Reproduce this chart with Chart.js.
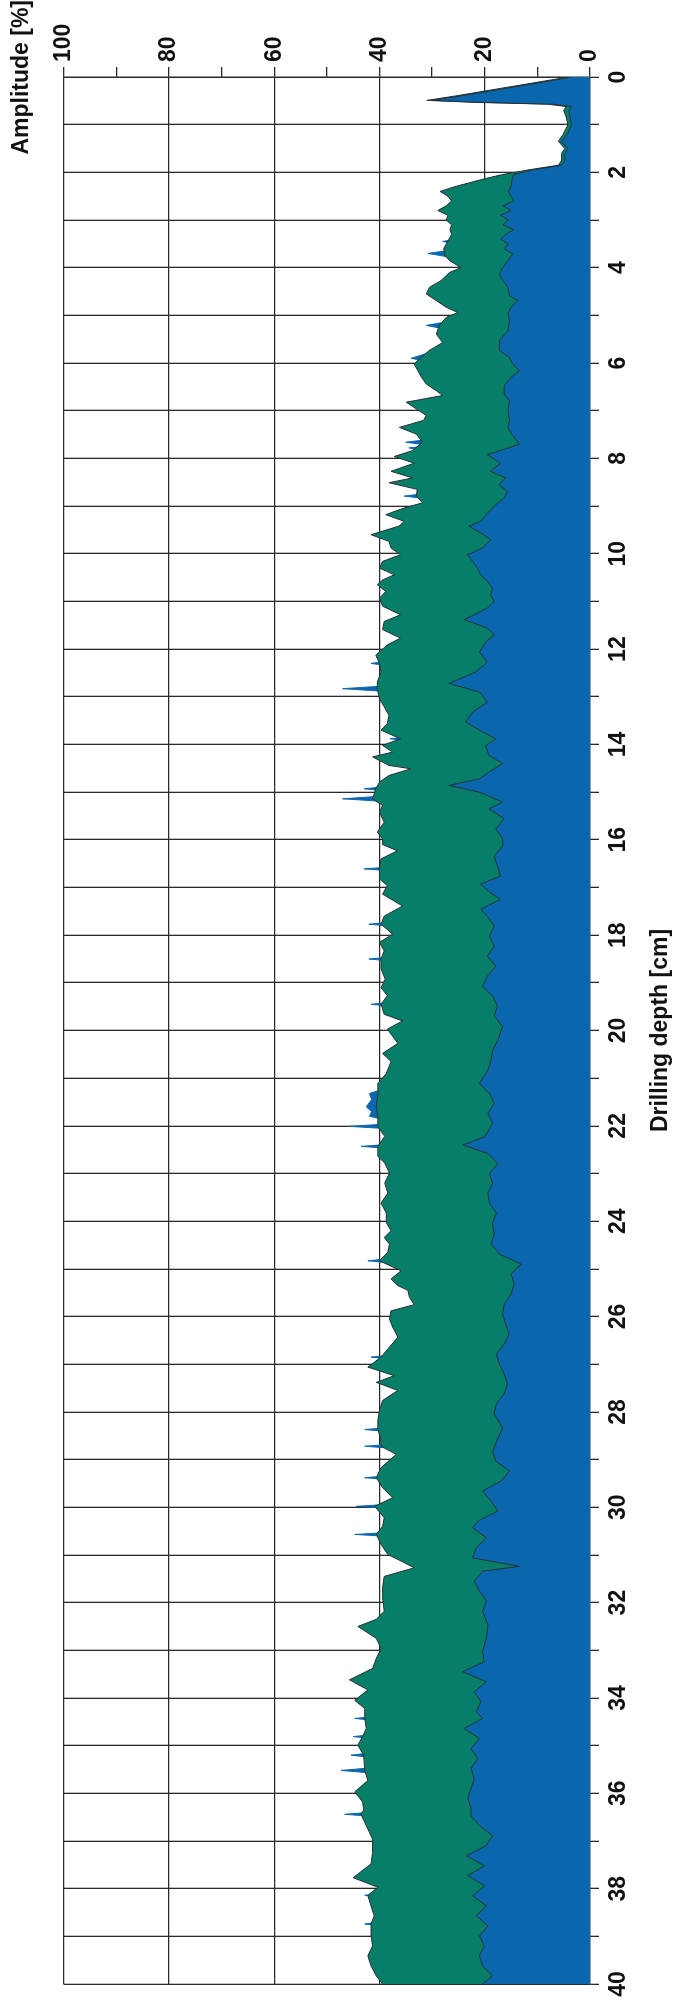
<!DOCTYPE html>
<html>
<head>
<meta charset="utf-8">
<script src="https://cdn.jsdelivr.net/npm/chart.js@4.4.1/dist/chart.umd.min.js"></script>
<style>
  html, body { margin: 0; padding: 0; background: #fff; overflow: hidden; }
  body { width: 676px; height: 2004px; position: relative; }
  #wrap { position: absolute; left: 0; top: 2004px; width: 2004px; height: 676px;
          transform-origin: 0 0; transform: rotate(-90deg); }
</style>
</head>
<body>
<div id="wrap"><canvas id="c" width="2004" height="676"></canvas></div>
<script>
// Drilling depth [cm] vs amplitude [%]
const depthTicks = [0,2,4,6,8,10,12,14,16,18,20,22,24,26,28,30,32,34,36,38,40];
const amplitudeTicks = [0,20,40,60,80,100];

// upper (green) profile: [depth, amplitude]
const greenSeries = [[0,4],[0.1,9.5],[0.25,17.6],[0.4,25.7],[0.49,31],[0.53,22],[0.57,8],[0.62,4.5],[0.7,5],[0.85,4.5],[1.0,4.2],[1.2,5.1],[1.35,6],[1.5,4.8],[1.6,5.4],[1.75,5.4],[1.85,6],[1.95,11.8],[2.05,16.8],[2.15,20.6],[2.3,25.7],[2.4,28.5],[2.5,27],[2.6,26.3],[2.7,27.3],[2.8,28.9],[2.9,27],[3.0,27.3],[3.1,26.3],[3.2,26.6],[3.3,26.3],[3.4,26.8],[3.5,27.3],[3.6,27.8],[3.75,27.5],[3.85,26.7],[4.0,24.5],[4.1,26.7],[4.27,28.3],[4.41,30.5],[4.55,31.1],[4.69,29.2],[4.83,27.3],[4.94,25.1],[5.04,27.3],[5.21,28.6],[5.39,29.2],[5.57,28],[5.74,30.6],[5.91,32.4],[6.02,33.4],[6.16,32.7],[6.3,32],[6.44,31.1],[6.58,29.2],[6.68,28],[6.82,34.9],[6.96,33],[7.1,31.1],[7.2,31.6],[7.35,36.2],[7.49,33],[7.66,31.8],[7.84,33.8],[7.96,37.2],[8.1,33.4],[8.27,37.8],[8.41,33.7],[8.51,38.2],[8.65,32.8],[8.79,33],[8.93,31.8],[9.04,35.3],[9.18,38.8],[9.32,35.3],[9.42,36.3],[9.6,41.6],[9.74,38.2],[9.88,37.8],[10.02,36],[10.16,39.4],[10.3,40],[10.44,37.2],[10.55,39.4],[10.65,40.4],[10.79,38.8],[10.93,40],[11.1,39.4],[11.28,36],[11.42,39.1],[11.59,39.4],[11.77,36],[11.91,38.5],[12.13,40.7],[12.3,40],[12.48,39.7],[12.69,40.4],[12.83,40.4],[13.04,40],[13.21,39.1],[13.39,38.2],[13.56,38.5],[13.7,39.7],[13.88,36],[14.02,39.4],[14.16,37.5],[14.26,41.3],[14.44,38.2],[14.51,34],[14.65,38.2],[14.79,40],[14.93,40.7],[15.14,41.3],[15.28,39.4],[15.42,40],[15.63,39.1],[15.84,40.4],[15.98,39.4],[16.1,39.4],[16.23,36.6],[16.4,39.7],[16.61,40],[16.82,40],[16.96,38.5],[17.14,39.4],[17.39,35.6],[17.6,39.1],[17.77,39.7],[17.98,37.5],[18.15,40],[18.33,39.1],[18.5,39.7],[18.71,39.7],[18.92,38.9],[19.1,39.7],[19.27,38.5],[19.45,39.7],[19.66,39.1],[19.8,35.6],[19.97,38.5],[20.27,36.5],[20.48,39.4],[20.65,37.8],[20.9,38.7],[21.11,40.3],[21.32,40.3],[21.6,40.6],[21.8,40.3],[22.01,40.3],[22.22,39],[22.43,40.3],[22.64,40.3],[22.78,39],[22.99,38.1],[23.2,39],[23.41,38.4],[23.62,39.7],[23.83,38.7],[24.03,38.7],[24.2,37.8],[24.34,39.1],[24.48,38.1],[24.65,38.4],[24.83,40],[25.04,35.9],[25.21,37.8],[25.35,36.5],[25.45,34.6],[25.6,34.3],[25.75,33.4],[25.88,37.8],[26.05,38.1],[26.22,37.5],[26.43,36.5],[26.64,38.1],[26.85,39.7],[27.06,42.2],[27.24,37.2],[27.38,40.6],[27.55,36.5],[27.76,39.4],[27.97,40],[28.18,40.3],[28.37,40.3],[28.55,39.8],[28.72,39.7],[28.89,36.8],[29.17,39.7],[29.38,40.6],[29.59,39.4],[29.8,37.5],[29.98,40.9],[30.22,39.1],[30.4,39.4],[30.57,40.6],[30.78,39.7],[30.99,38.4],[31.15,35.5],[31.27,33.4],[31.45,39.1],[31.69,39.4],[31.9,39.4],[32.18,39.1],[32.35,40.6],[32.5,44.1],[32.75,40.6],[32.96,39.7],[33.17,40.6],[33.38,41.3],[33.62,45.7],[33.83,42.2],[34.05,44.7],[34.22,42.8],[34.43,42.8],[34.64,42.5],[34.81,43.2],[34.99,44.1],[35.2,43],[35.52,42.8],[35.73,42.2],[35.97,44.7],[36.18,43.2],[36.35,43],[36.44,43.5],[36.68,42.5],[36.96,41.3],[37.24,41.3],[37.48,41.6],[37.77,45],[37.97,40.3],[38.14,42.2],[38.36,41.6],[38.57,41],[38.74,41.6],[38.99,41.6],[39.2,41.3],[39.41,42.2],[39.62,41.6],[39.83,40.6],[40,39.4]];

// lower (blue) profile: [depth, amplitude]
const blueSeries = [[0,3.5],[0.1,8.5],[0.25,16.6],[0.4,24.7],[0.49,30],[0.53,21],[0.57,7],[0.62,3.5],[0.7,4],[0.85,3.8],[1.0,3.5],[1.2,4.3],[1.35,5.5],[1.5,4.2],[1.6,4.8],[1.75,4.8],[1.85,5.5],[1.95,11],[2.05,14.5],[2.15,14.8],[2.3,15],[2.4,15.5],[2.5,15],[2.6,14.5],[2.7,16.5],[2.8,15],[2.9,17],[3.0,15.5],[3.1,16.5],[3.2,14.5],[3.3,16],[3.4,17],[3.5,15.5],[3.6,16.3],[3.71,14.7],[3.85,15.6],[4.0,16.6],[4.13,17.2],[4.27,16.6],[4.41,15.6],[4.59,15.3],[4.69,13.7],[4.83,15],[4.97,15.6],[5.11,15.3],[5.32,15.6],[5.53,17.2],[5.74,17.2],[5.88,15.3],[6.02,14.7],[6.16,13.4],[6.3,15],[6.48,16.3],[6.65,16.3],[6.79,15.3],[7.0,15.6],[7.21,15.3],[7.35,15.6],[7.52,14.7],[7.7,13.4],[7.8,16],[7.92,19.5],[8.1,17],[8.27,18.9],[8.41,16],[8.55,17.3],[8.69,15.7],[8.83,16.3],[8.97,17.9],[9.15,19.5],[9.32,20.8],[9.42,23],[9.56,20.8],[9.7,18.9],[9.88,20.4],[10.02,23.3],[10.16,22.3],[10.3,21.4],[10.44,20.8],[10.58,19.5],[10.72,18.5],[10.86,18.9],[11.0,18.2],[11.14,19.5],[11.28,22],[11.38,23.9],[11.56,19.5],[11.7,18.2],[11.85,19.8],[12.06,21],[12.27,19.5],[12.48,21.7],[12.72,26.8],[12.9,21],[13.11,19.5],[13.32,22.3],[13.53,23.6],[13.7,21],[13.88,17.9],[14.02,19.8],[14.23,19.2],[14.4,16.6],[14.58,19.2],[14.72,21],[14.86,26.8],[15.0,21],[15.21,16.6],[15.35,19.2],[15.56,16.3],[15.77,17.9],[15.98,16.6],[16.13,16.6],[16.34,18.2],[16.55,17.6],[16.76,17],[16.93,20.8],[17.11,18.9],[17.25,17],[17.46,20.8],[17.6,19.5],[17.81,18.2],[18.02,19.1],[18.23,18.2],[18.44,19.5],[18.65,17.9],[18.86,19.5],[19.07,20.4],[19.28,18.5],[19.49,17.6],[19.7,18.2],[19.91,16.6],[20.2,17.5],[20.41,18.5],[20.62,18.8],[20.83,19.4],[21.11,21],[21.32,19.1],[21.53,18.2],[21.74,19.4],[21.95,18.5],[22.23,20],[22.4,24.2],[22.58,19.4],[22.79,17.5],[23.0,19.1],[23.2,18.5],[23.41,19.4],[23.62,19.1],[23.83,17.8],[24.04,18.5],[24.27,18.2],[24.48,18.8],[24.69,17.2],[24.9,13.1],[25.11,15],[25.32,14.4],[25.53,15],[25.74,16.3],[25.95,16.6],[26.16,16],[26.37,15.4],[26.58,16.3],[26.79,17.8],[27.0,17.2],[27.2,16.3],[27.41,15.7],[27.62,16.3],[27.83,17.8],[28.04,18.2],[28.34,16.6],[28.55,17.5],[28.83,18.5],[29.03,17.9],[29.24,15.3],[29.45,16.9],[29.66,20.4],[29.87,18.8],[30.08,17.5],[30.29,21.3],[30.43,22.3],[30.64,19.7],[30.85,21.6],[31.06,22.3],[31.24,13.4],[31.34,20.4],[31.55,22],[31.76,21],[31.97,19.7],[32.18,20.4],[32.47,19.4],[32.75,19.7],[33.03,20.4],[33.24,20.1],[33.45,24.2],[33.66,19.7],[33.87,22],[34.08,20.7],[34.29,21.6],[34.43,20.4],[34.64,23.9],[34.85,21],[35.06,22.6],[35.27,21.3],[35.48,22.6],[35.69,22],[35.9,22.6],[36.11,23.2],[36.32,22.6],[36.47,22.6],[36.68,21],[36.89,18.5],[37.1,19.8],[37.31,23.5],[37.52,20.1],[37.73,23.2],[37.94,20],[38.15,22.3],[38.36,19.7],[38.57,21.6],[38.78,19.4],[38.99,21],[39.2,20.1],[39.41,21],[39.62,20.4],[39.83,18.5],[40,20.4]];

// blue peaks showing beyond the green profile (null = gap)
const spikeSeries = [[3.4,25.5],[3.45,28],[3.5,25.5],[3.5,null],[3.63,26.5],[3.7,30.8],[3.78,26.5],[3.78,null],[5.12,26.5],[5.21,31.1],[5.3,27],[5.3,null],[5.68,28.5],[5.8,31],[5.9,34],[5.96,31],[5.96,null],[7.6,30.5],[7.66,35],[7.72,31],[7.72,null],[7.74,31],[7.78,34.4],[7.82,32],[7.82,null],[8.74,31.5],[8.79,35.3],[8.84,31.5],[8.84,null],[12.25,38.5],[12.3,41.6],[12.35,38.5],[12.35,null],[12.77,38.5],[12.83,47],[12.89,38.5],[12.89,null],[13.84,34.5],[13.88,38],[13.92,35],[13.92,null],[14.88,38.5],[14.93,42.9],[14.98,38.5],[14.98,null],[15.08,39],[15.14,47],[15.2,38.5],[15.2,null],[16.57,38],[16.61,42.9],[16.65,38],[16.65,null],[17.73,38],[17.77,42],[17.81,38],[17.81,null],[18.46,38],[18.5,42],[18.54,38],[18.54,null],[19.41,38],[19.45,41.6],[19.49,38],[19.49,null],[21.2,38.5],[21.32,41.9],[21.45,41.5],[21.6,42.5],[21.7,41.5],[21.8,41.9],[21.88,38.5],[21.88,null],[21.96,38.5],[22.01,45.7],[22.06,38.5],[22.06,null],[22.39,38.5],[22.43,43.5],[22.47,38.5],[22.47,null],[24.79,38.5],[24.83,42.2],[24.87,38.5],[24.87,null],[26.81,38],[26.85,41.6],[26.89,38.5],[26.89,null],[28.33,38.5],[28.37,42.8],[28.41,38.5],[28.41,null],[28.68,38],[28.72,42.8],[28.76,38],[28.76,null],[29.34,38.5],[29.38,42.8],[29.42,38.5],[29.42,null],[29.94,38.5],[29.98,44.4],[30.02,38.5],[30.02,null],[30.53,38.5],[30.57,44.7],[30.61,38.5],[30.61,null],[34.39,41],[34.43,44.7],[34.47,41],[34.47,null],[34.77,41.5],[34.81,45],[34.85,41.5],[34.85,null],[35.15,41.5],[35.2,45.4],[35.25,41.5],[35.25,null],[35.46,41],[35.52,47.3],[35.58,41],[35.58,null],[36.4,42],[36.44,46.6],[36.48,42],[36.48,null],[38.1,40.5],[38.14,42.8],[38.18,40.5],[38.18,null],[38.7,40],[38.74,42.8],[38.78,40]];

const GREEN = '#077f68';
const BLUE = '#0b67ad';
const EDGE = '#26323a';
const GRID = '#2a2a2a';
const FONT = "'Liberation Sans', Arial, sans-serif";

const toXY = s => s.map(p => ({x: p[0], y: p[1]}));

new Chart(document.getElementById('c'), {
  type: 'line',
  data: {
    datasets: [
      { label: 'lower', data: toXY(blueSeries), order: 0, fill: 'origin',
        backgroundColor: BLUE, borderColor: EDGE, borderWidth: 1, pointRadius: 0, tension: 0 },
      { label: 'upper', data: toXY(greenSeries), order: 1, fill: 'origin',
        backgroundColor: GREEN, borderColor: EDGE, borderWidth: 1, pointRadius: 0, tension: 0 },
      { label: 'peaks', data: toXY(spikeSeries), order: 2, fill: 'origin', spanGaps: false,
        backgroundColor: BLUE, borderColor: BLUE, borderWidth: 1, pointRadius: 0, tension: 0 }
    ]
  },
  options: {
    responsive: false,
    animation: false,
    devicePixelRatio: 1,
    layout: { padding: { left: 20, right: 0, top: 0, bottom: 0 } },
    plugins: {
      legend: { display: false },
      tooltip: { enabled: false },
      title: { display: true, text: 'Amplitude [%]', align: 'end', color: '#111',
               font: { family: FONT, size: 23, weight: 'bold', lineHeight: 1.2 },
               padding: { top: 8, bottom: 28 } }
    },
    scales: {
      x: {
        type: 'linear', position: 'bottom', reverse: true, min: 0, max: 40,
        afterBuildTicks: s => { s.ticks = []; for (let v = 0; v <= 40; v++) s.ticks.push({value: v}); },
        afterFit: s => { s.height = 86; },
        ticks: { autoSkip: false, maxRotation: 0, minRotation: 0, padding: 6, color: '#111',
                 font: { family: FONT, size: 23, weight: 'bold' },
                 callback: v => depthTicks.includes(v) ? String(v) : '' },
        grid: { color: GRID, lineWidth: 1.3, tickLength: 9, tickColor: GRID, drawTicks: true },
        border: { display: true, color: GRID, width: 1.3 },
        title: { display: true, text: 'Drilling depth [cm]', color: '#111',
                 font: { family: FONT, size: 23, weight: 'bold', lineHeight: 1.2 },
                 padding: { top: 0, bottom: 2 } }
      },
      y: {
        type: 'linear', position: 'right', min: 0, max: 100,
        afterBuildTicks: s => { s.ticks = []; for (let v = 0; v <= 100; v += 10) s.ticks.push({value: v}); },
        afterFit: s => { s.width = 77; },
        ticks: { autoSkip: false, padding: 5, color: '#111',
                 font: { family: FONT, size: 23, weight: 'bold' },
                 callback: v => amplitudeTicks.includes(v) ? String(v) : '' },
        grid: { color: c => (c.tick && c.tick.value % 20 === 0) ? GRID : 'rgba(0,0,0,0)',
                lineWidth: 1.3, tickLength: 10, tickColor: GRID },
        border: { display: true, color: GRID, width: 1.3 }
      }
    }
  }
});
</script>
</body>
</html>
